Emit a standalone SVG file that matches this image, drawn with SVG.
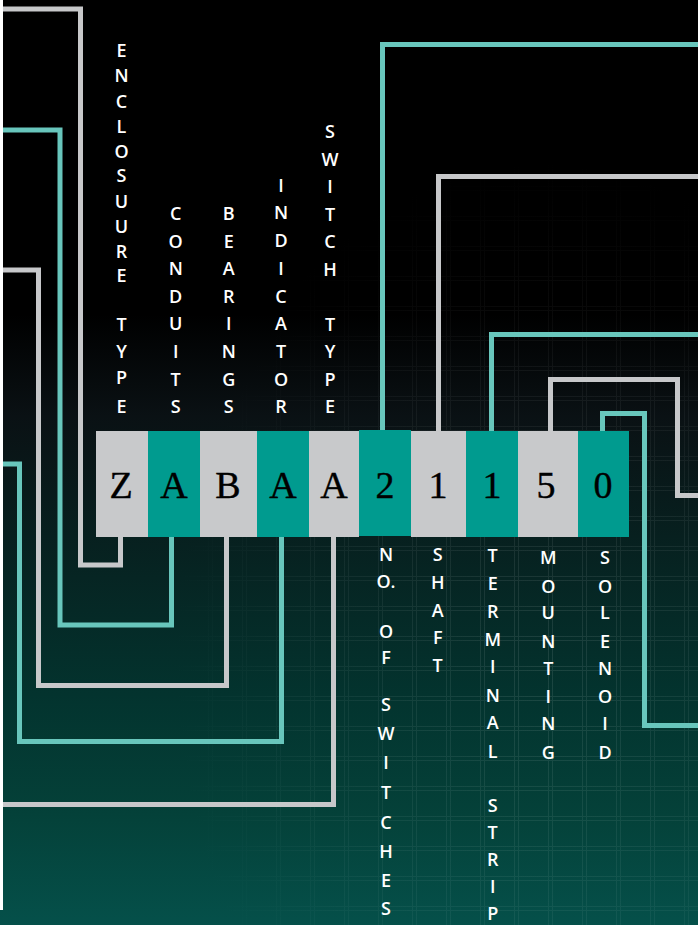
<svg xmlns="http://www.w3.org/2000/svg" width="698" height="925" viewBox="0 0 698 925">
<defs>
<linearGradient id="bg" x1="0" y1="0" x2="0" y2="1">
<stop offset="0" stop-color="#000000"/>
<stop offset="0.34" stop-color="#000000"/>
<stop offset="0.45" stop-color="#0a1114"/>
<stop offset="0.58" stop-color="#07201f"/>
<stop offset="0.75" stop-color="#03332e"/>
<stop offset="0.88" stop-color="#044139"/>
<stop offset="1" stop-color="#05504a"/>
</linearGradient>
<pattern id="grid" width="34" height="30" patternUnits="userSpaceOnUse" x="4" y="6">
<path d="M0 0.5H34M0 4.5H34M0.5 0V30M4.5 0V30" stroke="#ffffff" stroke-width="1" fill="none"/>
</pattern>
<radialGradient id="gm" cx="0.78" cy="0.72" r="0.55">
<stop offset="0" stop-color="#ffffff" stop-opacity="0.1"/>
<stop offset="0.6" stop-color="#ffffff" stop-opacity="0.05"/>
<stop offset="1" stop-color="#ffffff" stop-opacity="0"/>
</radialGradient>
<mask id="gmask"><rect width="698" height="925" fill="url(#gm)"/></mask>
<style>
.ct{fill:none;stroke:#68c6bc;stroke-width:5;stroke-linejoin:miter;stroke-linecap:butt}
.cg{fill:none;stroke:#c7c8ca;stroke-width:5;stroke-linejoin:miter;stroke-linecap:butt}
.bg{fill:#c8c9cb}
.bt{fill:#009b8f}
.code{font-family:"Liberation Serif","Times New Roman",serif;font-size:38px;fill:#000;text-anchor:middle;stroke:#000;stroke-width:0.4}
.lab{font-family:"Open Sans","Noto Sans","Liberation Sans",sans-serif;font-weight:600;font-size:18px;fill:#ffffff;text-anchor:middle}
</style>
</defs>
<rect width="698" height="925" fill="url(#bg)"/>
<rect width="698" height="925" fill="url(#grid)" mask="url(#gmask)"/>
<rect x="0" y="0" width="3" height="910" fill="#ffffff"/>

<g id="connectors">
<path class="cg" d="M120.5 537V565H80.5V9H3"/>
<path class="ct" d="M171.5 537V625H60V130H3"/>
<path class="cg" d="M226.5 537V685.5H38.5V270H3"/>
<path class="ct" d="M281.5 537V741.5H19.5V464H3"/>
<path class="cg" d="M333.5 537V804.5H3"/>
<path class="ct" d="M382.5 431V44.5H698"/>
<path class="cg" d="M438.5 431V176.5H698"/>
<path class="ct" d="M491.5 431V334.5H698"/>
<path class="cg" d="M550.5 431V379.5H677.5V495.5H698"/>
<path class="ct" d="M602.5 431V413.5H644.5V725.5H698"/>
</g>

<g id="code">
<g id="c1"><rect class="bg" x="96" y="431" width="52" height="106"/><text class="code" x="121" y="498">Z</text></g>
<g id="c2"><rect class="bt" x="148" y="431" width="52" height="106"/><text class="code" x="174" y="498">A</text></g>
<g id="c3"><rect class="bg" x="200" y="431" width="57" height="106"/><text class="code" x="228" y="498">B</text></g>
<g id="c4"><rect class="bt" x="257" y="431" width="52" height="106"/><text class="code" x="283" y="498">A</text></g>
<g id="c5"><rect class="bg" x="309" y="431" width="50" height="106"/><text class="code" x="334" y="498">A</text></g>
<g id="c6"><rect class="bt" x="359" y="430" width="52" height="106"/><text class="code" x="385" y="498">2</text></g>
<g id="c7"><rect class="bg" x="411" y="431" width="55" height="106"/><text class="code" x="438" y="498">1</text></g>
<g id="c8"><rect class="bt" x="466" y="431" width="52" height="106"/><text class="code" x="492" y="498">1</text></g>
<g id="c9"><rect class="bg" x="518" y="431" width="60" height="106"/><text class="code" x="546" y="498">5</text></g>
<g id="c10"><rect class="bt" x="578" y="431" width="51" height="106"/><text class="code" x="603" y="498">0</text></g>
</g>

<g id="label-enclosure"><text class="lab">
<tspan x="121.5" y="57">E</tspan><tspan x="121.5" y="82">N</tspan><tspan x="121.5" y="108">C</tspan><tspan x="121.5" y="133">L</tspan><tspan x="121.5" y="158">O</tspan><tspan x="121.5" y="182">S</tspan><tspan x="121.5" y="208">U</tspan><tspan x="121.5" y="233">U</tspan><tspan x="121.5" y="258">R</tspan><tspan x="121.5" y="282">E</tspan><tspan x="121.5" y="331">T</tspan><tspan x="121.5" y="358">Y</tspan><tspan x="121.5" y="384">P</tspan><tspan x="121.5" y="413">E</tspan>
</text></g>
<g id="label-conduits"><text class="lab">
<tspan x="175.7" y="220">C</tspan><tspan x="175.7" y="247.6">O</tspan><tspan x="175.7" y="275.2">N</tspan><tspan x="175.7" y="302.8">D</tspan><tspan x="175.7" y="330.4">U</tspan><tspan x="175.7" y="358">I</tspan><tspan x="175.7" y="385.6">T</tspan><tspan x="175.7" y="413.2">S</tspan>
</text></g>
<g id="label-bearings"><text class="lab">
<tspan x="228.7" y="220">B</tspan><tspan x="228.7" y="247.6">E</tspan><tspan x="228.7" y="275.2">A</tspan><tspan x="228.7" y="302.8">R</tspan><tspan x="228.7" y="330.4">I</tspan><tspan x="228.7" y="358">N</tspan><tspan x="228.7" y="385.6">G</tspan><tspan x="228.7" y="413.2">S</tspan>
</text></g>
<g id="label-indicator"><text class="lab">
<tspan x="281" y="191.7">I</tspan><tspan x="281" y="219.4">N</tspan><tspan x="281" y="247.1">D</tspan><tspan x="281" y="274.8">I</tspan><tspan x="281" y="302.5">C</tspan><tspan x="281" y="330.2">A</tspan><tspan x="281" y="357.9">T</tspan><tspan x="281" y="385.6">O</tspan><tspan x="281" y="413.3">R</tspan>
</text></g>
<g id="label-switchtype"><text class="lab">
<tspan x="330" y="138">S</tspan><tspan x="330" y="165.5">W</tspan><tspan x="330" y="193">I</tspan><tspan x="330" y="220.5">T</tspan><tspan x="330" y="248">C</tspan><tspan x="330" y="275.5">H</tspan><tspan x="330" y="330.5">T</tspan><tspan x="330" y="358">Y</tspan><tspan x="330" y="385.5">P</tspan><tspan x="330" y="413">E</tspan>
</text></g>

<g id="label-noswitches"><text class="lab">
<tspan x="386" y="561">N</tspan><tspan x="386" y="587.7">O.</tspan><tspan x="386" y="637.7">O</tspan><tspan x="386" y="664.3">F</tspan><tspan x="386" y="711">S</tspan><tspan x="386" y="740">W</tspan><tspan x="386" y="769.3">I</tspan><tspan x="386" y="799.3">T</tspan><tspan x="386" y="828.7">C</tspan><tspan x="386" y="857.7">H</tspan><tspan x="386" y="887">E</tspan><tspan x="386" y="915">S</tspan>
</text></g>
<g id="label-shaft"><text class="lab">
<tspan x="437.7" y="561">S</tspan><tspan x="437.7" y="589.3">H</tspan><tspan x="437.7" y="617">A</tspan><tspan x="437.7" y="644.3">F</tspan><tspan x="437.7" y="672">T</tspan>
</text></g>
<g id="label-terminal"><text class="lab">
<tspan x="492.7" y="562">T</tspan><tspan x="492.7" y="590.3">E</tspan><tspan x="492.7" y="617.7">R</tspan><tspan x="492.7" y="646">M</tspan><tspan x="492.7" y="673.3">I</tspan><tspan x="492.7" y="701.7">N</tspan><tspan x="492.7" y="729.3">A</tspan><tspan x="492.7" y="757.7">L</tspan><tspan x="492.7" y="812">S</tspan><tspan x="492.7" y="839">T</tspan><tspan x="492.7" y="866">R</tspan><tspan x="492.7" y="893">I</tspan><tspan x="492.7" y="920">P</tspan>
</text></g>
<g id="label-mounting"><text class="lab">
<tspan x="548.3" y="564.3">M</tspan><tspan x="548.3" y="592.7">O</tspan><tspan x="548.3" y="619.3">U</tspan><tspan x="548.3" y="647.7">N</tspan><tspan x="548.3" y="675.3">T</tspan><tspan x="548.3" y="702.7">I</tspan><tspan x="548.3" y="730.3">N</tspan><tspan x="548.3" y="758.7">G</tspan>
</text></g>
<g id="label-solenoid"><text class="lab">
<tspan x="605" y="564.3">S</tspan><tspan x="605" y="592.7">O</tspan><tspan x="605" y="619.3">L</tspan><tspan x="605" y="647.7">E</tspan><tspan x="605" y="675.3">N</tspan><tspan x="605" y="702.7">O</tspan><tspan x="605" y="730.3">I</tspan><tspan x="605" y="758.7">D</tspan>
</text></g>
</svg>
